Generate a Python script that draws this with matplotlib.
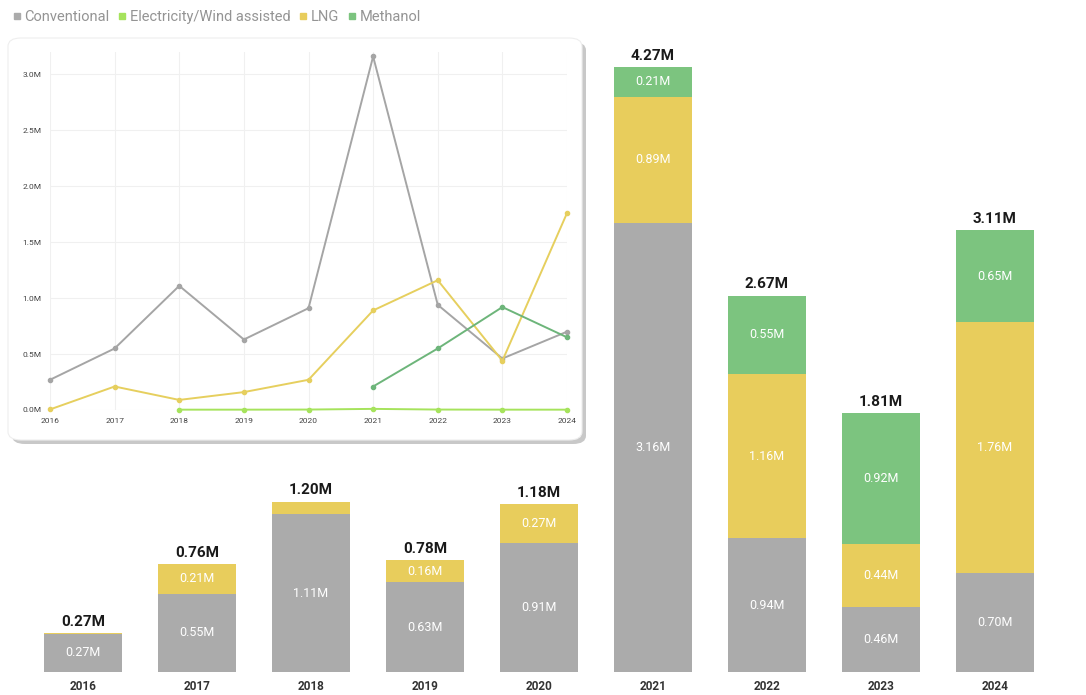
import numpy as np
import matplotlib.pyplot as plt
from matplotlib.lines import Line2D
from matplotlib.patches import FancyBboxPatch

years = ["2016", "2017", "2018", "2019", "2020", "2021", "2022", "2023", "2024"]
conventional = [0.27, 0.55, 1.11, 0.63, 0.91, 3.16, 0.94, 0.46, 0.70]
lng = [0.005, 0.21, 0.09, 0.16, 0.27, 0.89, 1.16, 0.44, 1.76]
methanol = [0.0, 0.0, 0.0, 0.0, 0.0, 0.21, 0.55, 0.92, 0.65]
electric = [np.nan, np.nan, 0.003, 0.003, 0.004, 0.01, 0.004, 0.003, 0.003]
totals = ["0.27M", "0.76M", "1.20M", "0.78M", "1.18M", "4.27M", "2.67M", "1.81M", "3.11M"]
yticks_inset = [0.0, 0.5, 1.0, 1.5, 2.0, 2.5, 3.0]

c_conv = "#ababab"
c_lng = "#e8cd5c"
c_meth = "#7cc47f"
c_elec = "#a6e35c"

plt.rcParams['font.family'] = ['Roboto', 'DejaVu Sans']

fig = plt.figure(figsize=(10.86, 6.95), dpi=100)
fig.patch.set_facecolor("white")

# Stacked bars
ax = fig.add_axes([0, 0, 1, 1])
ax.set_xlim(-0.728, 8.80)
ax.set_ylim(-0.162, 4.73)
ax.axis("off")
x = np.arange(len(years))
w = 0.68
conv = np.array(conventional)
ln = np.array(lng)
me = np.array(methanol)
ax.bar(x, conv, w, color=c_conv)
ax.bar(x, ln, w, bottom=conv, color=c_lng)
ax.bar(x, me, w, bottom=conv + ln, color=c_meth)

for i in range(len(years)):
    base = 0
    for v in (conv[i], ln[i], me[i]):
        if v >= 0.15:
            ax.text(x[i], base + v / 2, f"{v:.2f}M", ha="center", va="center",
                    color="white", fontsize=9)
        base += v
    ax.annotate(totals[i], (x[i], base), xytext=(0, 3), textcoords="offset points",
                ha="center", va="bottom", fontsize=11, fontweight="bold", color="#1a1a1a")
    ax.text(x[i], -0.105, years[i], ha="center", va="center", fontsize=8.5,
            fontweight="bold", color="#333333")

# Inset card with shadow
shadow = FancyBboxPatch((12 / 1086, 1 - 444 / 695), 574 / 1086, 402 / 695,
                        boxstyle="round,pad=0,rounding_size=0.012",
                        transform=fig.transFigure, facecolor="#c8c8c8",
                        edgecolor="none", zorder=2)
card = FancyBboxPatch((8 / 1086, 1 - 440 / 695), 574 / 1086, 402 / 695,
                      boxstyle="round,pad=0,rounding_size=0.012",
                      transform=fig.transFigure, facecolor="white",
                      edgecolor="#eeeeee", linewidth=0.8, zorder=3)
fig.patches.extend([shadow, card])

ins = fig.add_axes([50 / 1086, 1 - 410 / 695, 517 / 1086, 358 / 695], zorder=5)
ins.patch.set_alpha(0)
ins.set_xlim(0, 8)
ins.set_ylim(0, 3.2)
for s in ins.spines.values():
    s.set_visible(False)
ins.set_xticks(x)
ins.set_xticklabels(years, fontsize=6, color="#444444")
ins.set_yticks(yticks_inset)
ins.set_yticklabels([f"{t:.1f}M" for t in yticks_inset], fontsize=6, color="#444444")
ins.tick_params(length=0, pad=6)
ins.grid(True, color="#f0f0f0", linewidth=0.8)

meth_line = [v if v > 0 else np.nan for v in methanol]
for vals, col in ((conventional, "#a5a5a5"), (lng, "#e6cf5e"),
                  (meth_line, "#6db57a"), (electric, c_elec)):
    ins.plot(x, vals, color=col, linewidth=1.4, marker="o", markersize=3, clip_on=False)

# Legend
handles = [Line2D([], [], linestyle="none", marker="s", markersize=4, color=c)
           for c in (c_conv, c_elec, c_lng, c_meth)]
fig.legend(handles, ["Conventional", "Electricity/Wind assisted", "LNG", "Methanol"],
           loc="upper left", bbox_to_anchor=(-0.002, 1.005), ncol=4, frameon=False,
           fontsize=10.5, labelcolor="#949494", handletextpad=0.1, columnspacing=0.5,
           handlelength=0.8)

fig.savefig("out.png", dpi=100, facecolor="white")
